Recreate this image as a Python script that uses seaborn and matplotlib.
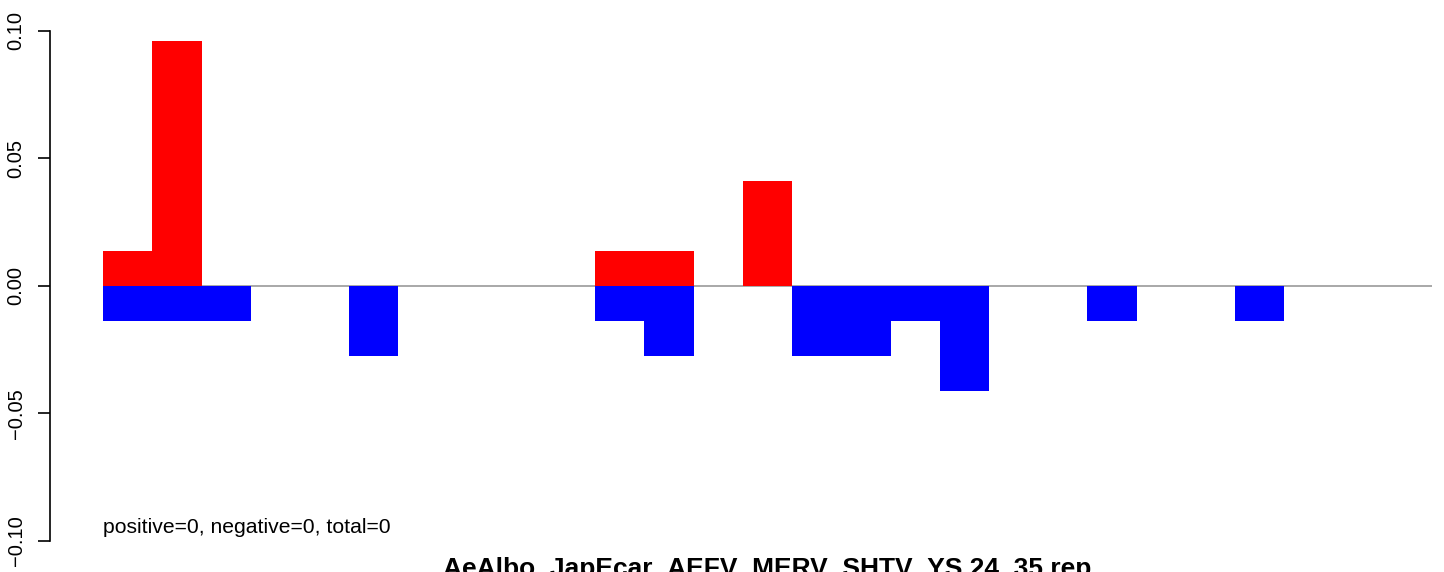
import matplotlib
matplotlib.use("Agg")
import matplotlib.pyplot as plt
import seaborn as sns

# bar values (one unit is about 0.0137)
positions = list(range(27))
pos_vals = [0.0137, 0.0959, 0, 0, 0, 0, 0, 0, 0, 0, 0.0137, 0.0137, 0, 0.0411,
            0, 0, 0, 0, 0, 0, 0, 0, 0, 0, 0, 0, 0]
neg_vals = [-0.0137, -0.0137, -0.0137, 0, 0, -0.0274, 0, 0, 0, 0, -0.0137, -0.0274, 0, 0,
            -0.0274, -0.0274, -0.0137, -0.0411, 0, 0, -0.0137, 0, 0, -0.0137, 0, 0, 0]
yticks = [-0.10, -0.05, 0.00, 0.05, 0.10]
ytick_labels = ["\u22120.10", "\u22120.05", "0.00", "0.05", "0.10"]
title = "AeAlbo_JapEcar_AEFV_MERV_SHTV_YS 24_35 rep"
note = "positive=0, negative=0, total=0"

sns.set_style("white")
plt.rcParams["font.family"] = ["Liberation Sans", "DejaVu Sans"]
plt.rcParams["text.color"] = "black"
plt.rcParams["ytick.color"] = "black"
plt.rcParams["axes.edgecolor"] = "black"

W, H = 1444, 572
fig = plt.figure(figsize=(W / 100, H / 100), dpi=100)
# plot region runs past the right edge, as in the cropped original
ax = fig.add_axes([50 / W, 10.6 / H, 1435 / W, 551 / H])

sns.barplot(x=positions, y=pos_vals, color="red", saturation=1, width=1,
            linewidth=0, ax=ax)
sns.barplot(x=positions, y=neg_vals, color="blue", saturation=1, width=1,
            linewidth=0, ax=ax)

n = len(positions)
ax.hlines(0, -0.5, n - 0.5, color="#999999", linewidth=1.2, zorder=0)

ax.set_xlim(-0.5 - 0.04 * n, n - 0.5 + 0.04 * n)
ax.set_ylim(-0.108, 0.108)

for s in ["top", "right", "bottom"]:
    ax.spines[s].set_visible(False)
ax.spines["left"].set_bounds(-0.10, 0.10)
ax.spines["left"].set_linewidth(1.2)
ax.set_xticks([])
ax.set_yticks(yticks)
ax.set_yticklabels(ytick_labels, rotation=90, va="center", fontsize=14.5)
ax.tick_params(axis="y", length=8.6, width=1.2, direction="out", pad=9, left=True,
               labelcolor="black")
ax.set_xlabel("")
ax.set_ylabel("")

ax.text(-0.5, -0.0969, note, ha="left", va="baseline", fontsize=15.2)
fig.text(767 / W, 1 - 576 / H, title, ha="center", va="baseline",
         fontsize=19, fontweight="bold")

fig.savefig("out.png", dpi=100)
